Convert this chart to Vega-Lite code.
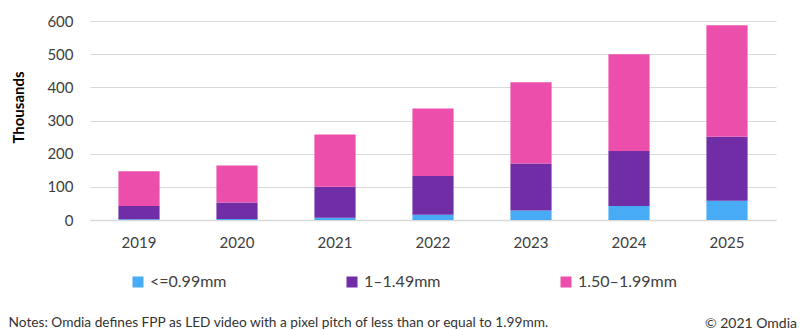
{
  "$schema": "https://vega.github.io/schema/vega-lite/v6.json",
  "width": 686,
  "height": 199,
  "autosize": {"type": "none"},
  "padding": {"left": 90, "top": 21, "right": 24, "bottom": 110},
  "background": "white",
  "config": {
    "font": "Lato",
    "view": {"stroke": null}
  },
  "title": {
    "text": "© 2021 Omdia",
    "orient": "top",
    "anchor": "end",
    "frame": "group",
    "fontSize": 14,
    "font": "Lato",
    "fontWeight": "normal",
    "color": "#333333",
    "baseline": "middle",
    "offset": 0,
    "dx": 21,
    "dy": 324
  },
  "data": {
    "values": [
      {"year": "2019", "size": "<=0.99mm", "value": 2},
      {"year": "2019", "size": "1–1.49mm", "value": 40},
      {"year": "2019", "size": "1.50–1.99mm", "value": 105},
      {"year": "2020", "size": "<=0.99mm", "value": 3},
      {"year": "2020", "size": "1–1.49mm", "value": 50},
      {"year": "2020", "size": "1.50–1.99mm", "value": 111},
      {"year": "2021", "size": "<=0.99mm", "value": 7},
      {"year": "2021", "size": "1–1.49mm", "value": 93},
      {"year": "2021", "size": "1.50–1.99mm", "value": 158},
      {"year": "2022", "size": "<=0.99mm", "value": 16},
      {"year": "2022", "size": "1–1.49mm", "value": 117},
      {"year": "2022", "size": "1.50–1.99mm", "value": 203},
      {"year": "2023", "size": "<=0.99mm", "value": 29},
      {"year": "2023", "size": "1–1.49mm", "value": 141},
      {"year": "2023", "size": "1.50–1.99mm", "value": 245},
      {"year": "2024", "size": "<=0.99mm", "value": 42},
      {"year": "2024", "size": "1–1.49mm", "value": 166},
      {"year": "2024", "size": "1.50–1.99mm", "value": 292},
      {"year": "2025", "size": "<=0.99mm", "value": 58},
      {"year": "2025", "size": "1–1.49mm", "value": 193},
      {"year": "2025", "size": "1.50–1.99mm", "value": 336}
    ]
  },
  "mark": {"type": "bar"},
  "encoding": {
    "x": {
      "field": "year",
      "type": "ordinal",
      "scale": {"paddingInner": 0.58, "paddingOuter": 0.29},
      "axis": {
        "title": "Notes: Omdia defines FPP as LED video with a pixel pitch of less than or equal to 1.99mm.",
        "titleX": -82,
        "titleY": 102,
        "titleAlign": "left",
        "titleAnchor": null,
        "titleBaseline": "middle",
        "titleFontSize": 13.7,
        "titleFontWeight": "normal",
        "titleColor": "#333333",
        "titleFont": "Lato",
        "labelAngle": 0,
        "labelFontSize": 15,
        "labelColor": "#404040",
        "labelPadding": 15,
        "ticks": false,
        "domainColor": "#D9D9D9",
        "domainWidth": 1.5
      }
    },
    "y": {
      "field": "value",
      "type": "quantitative",
      "aggregate": "sum",
      "stack": "zero",
      "scale": {"domain": [0, 600], "nice": false},
      "axis": {
        "values": [0, 100, 200, 300, 400, 500, 600],
        "title": "Thousands",
        "titleFontSize": 15,
        "titleFontWeight": "bold",
        "titleColor": "#000000",
        "titleX": -72,
        "titleY": 86,
        "titleAngle": -90,
        "titleAlign": "center",
        "titleAnchor": null,
        "titleBaseline": "middle",
        "labelFontSize": 15,
        "labelColor": "#404040",
        "labelPadding": 17,
        "ticks": false,
        "domain": false,
        "grid": true,
        "gridColor": "#D9D9D9",
        "gridWidth": 1.2
      }
    },
    "color": {
      "field": "size",
      "type": "nominal",
      "sort": ["<=0.99mm", "1–1.49mm", "1.50–1.99mm"],
      "scale": {
        "domain": ["<=0.99mm", "1–1.49mm", "1.50–1.99mm"],
        "range": ["#47ABF5", "#702DA6", "#EC4FAB"]
      },
      "legend": {
        "orient": "none",
        "legendX": 40,
        "legendY": 253,
        "direction": "horizontal",
        "title": null,
        "symbolType": "square",
        "symbolSize": 121,
        "symbolStrokeWidth": 0,
        "labelFontSize": 16,
        "labelColor": "#404040",
        "labelOffset": 4,
        "gridAlign": "all",
        "columnPadding": 95,
        "labelLimit": 200
      }
    },
    "order": {"field": "size", "sort": "descending"}
  }
}
